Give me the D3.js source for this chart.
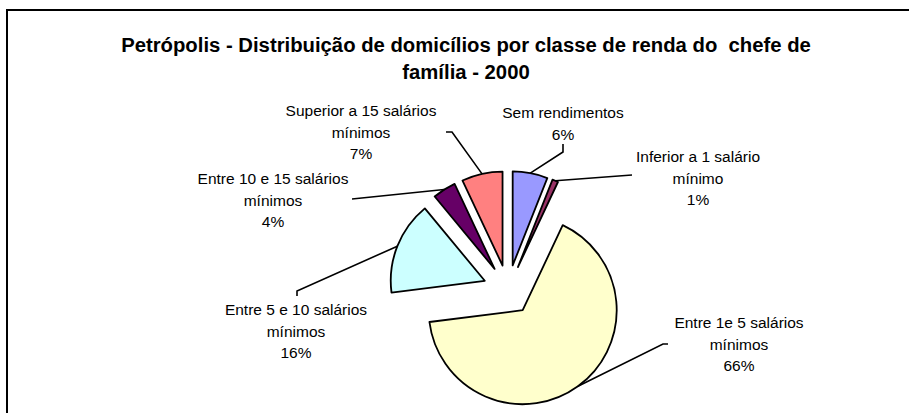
<!DOCTYPE html>
<html>
<head>
<meta charset="utf-8">
<script src="https://cdn.jsdelivr.net/npm/d3@7"></script>
<style>
  html, body { margin: 0; padding: 0; background: #fff; }
  svg { display: block; }
  text { font-family: "Liberation Sans", Arial, sans-serif; fill: #000; white-space: pre; }
</style>
</head>
<body>
<svg id="chart" width="909" height="413"></svg>
<script>
// Household distribution by income class of the head of household (Petrópolis, 2000)
const categories = [
  "Sem rendimentos",
  "Inferior a 1 salário mínimo",
  "Entre 1e 5 salários mínimos",
  "Entre 5 e 10 salários mínimos",
  "Entre 10 e 15 salários mínimos",
  "Superior a 15 salários mínimos"
];
const values = [6, 1, 66, 16, 4, 7];
const labelLines = [
  ["Sem rendimentos"],
  ["Inferior a 1 salário", "mínimo"],
  ["Entre 1e 5 salários", "mínimos"],
  ["Entre 5 e 10 salários", "mínimos"],
  ["Entre 10 e 15 salários", "mínimos"],
  ["Superior a 15 salários", "mínimos"]
];
const colors = ["#9999FF", "#993366", "#FFFFCC", "#CCFFFF", "#660066", "#FF8080"];
const titleLines = [
  "Petrópolis - Distribuição de domicílios por classe de renda do  chefe de",
  "família - 2000"
];

// Label block placement (centre x, first line centre y) and leader bends
const labelLayout = [
  { x: 563, y: 113, bends: [[563, 144], [563, 152]] },
  { x: 698, y: 157, bends: [[632, 175]] },
  { x: 739, y: 323, bends: [[668, 344], [663, 344]] },
  { x: 296, y: 310, bends: [[297, 296], [297, 291]] },
  { x: 273, y: 179, bends: [[352, 199]] },
  { x: 361, y: 111, bends: [[446, 132], [452, 132]] }
];

const W = 909, H = 413;
const cx = 508, cy = 290, R = 94, explode = 25;
const lineGap = 21.5;

const svg = d3.select("#chart");

// chart frame (runs off the right and bottom of the view)
svg.append("rect")
  .attr("x", 7).attr("y", 10)
  .attr("width", W + 20).attr("height", H + 20)
  .attr("fill", "none").attr("stroke", "#000").attr("stroke-width", 2);

// title
svg.append("g").selectAll("text")
  .data(titleLines).join("text")
  .attr("x", 466)
  .attr("y", (d, i) => 45 + i * 27)
  .attr("dy", "0.35em")
  .attr("text-anchor", "middle")
  .style("font-size", "20.3px")
  .style("font-weight", "bold")
  .text(d => d);

const total = d3.sum(values);
const pie = d3.pie().sort(null).value(d => d).startAngle(0).endAngle(2 * Math.PI);
const arcs = pie(values);
const arc = d3.arc().innerRadius(0).outerRadius(R);

const mid = a => (a.startAngle + a.endAngle) / 2;
const offset = a => [explode * Math.sin(mid(a)), -explode * Math.cos(mid(a))];

const g = svg.append("g").attr("transform", `translate(${cx},${cy})`);

g.selectAll("path")
  .data(arcs).join("path")
  .attr("transform", d => { const o = offset(d); return `translate(${o[0]},${o[1]})`; })
  .attr("d", arc)
  .attr("fill", (d, i) => colors[i])
  .attr("stroke", "#000")
  .attr("stroke-width", 1.8)
  .attr("stroke-linejoin", "round");

// leader lines: from label bend points to the middle of each slice's outer arc
const line = d3.line();
svg.append("g").selectAll("path")
  .data(arcs).join("path")
  .attr("d", (d, i) => {
    const o = offset(d);
    const m = mid(d);
    const end = [cx + o[0] + R * Math.sin(m), cy + o[1] - R * Math.cos(m)];
    return line(labelLayout[i].bends.concat([end]));
  })
  .attr("fill", "none")
  .attr("stroke", "#000")
  .attr("stroke-width", 1.6);

// data labels: category name + percentage
const fmt = v => Math.round(v / total * 100) + "%";
const labels = svg.append("g").selectAll("g")
  .data(arcs).join("g");
labels.each(function (d, i) {
  const lines = labelLines[i].concat([fmt(d.data)]);
  d3.select(this).selectAll("text")
    .data(lines).join("text")
    .attr("x", labelLayout[i].x)
    .attr("y", (t, j) => labelLayout[i].y + j * lineGap)
    .attr("dy", "0.35em")
    .attr("text-anchor", "middle")
    .style("font-size", "15.5px")
    .text(t => t);
});
</script>
</body>
</html>
